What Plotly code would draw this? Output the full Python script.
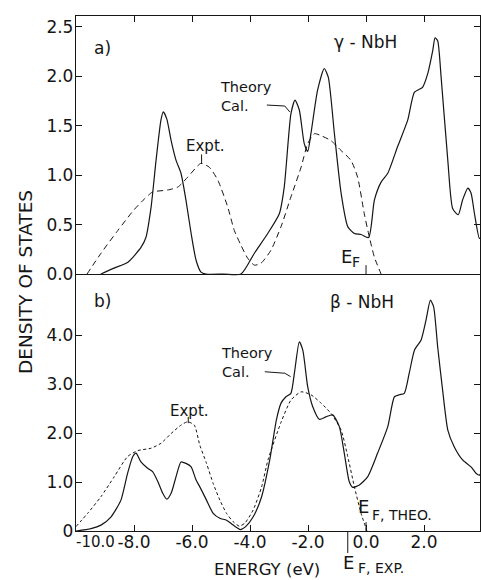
import plotly.graph_objects as go

# ---------------- data ----------------
# gamma-NbH, theory (solid)
gamma_theory_E = [-9.14, -8.69, -8.21, -7.76, -7.59, -7.41, -7.24, -7.07, -6.99, -6.87,
                  -6.72, -6.55, -6.38, -6.21, -6.03, -5.86, -5.69, -5.52, -4.90, -4.31,
                  -3.85, -3.39, -2.99, -2.82, -2.59, -2.45, -2.30, -2.13, -2.01, -1.90,
                  -1.67, -1.44, -1.30, -1.09, -0.86, -0.63, -0.40, -0.17, 0.09, 0.29,
                  0.52, 0.75, 1.09, 1.44, 1.67, 1.95, 2.13, 2.30, 2.38, 2.47,
                  2.59, 2.82, 2.99, 3.18, 3.33, 3.51, 3.62, 3.74, 3.91, 3.99]
gamma_theory_dos = [0, 0.06, 0.12, 0.27, 0.37, 0.68, 1.15, 1.56, 1.64, 1.57,
                    1.35, 1.15, 1.02, 0.75, 0.41, 0.14, 0.02, 0, 0, 0,
                    0.21, 0.41, 0.61, 0.88, 1.62, 1.76, 1.66, 1.32, 1.24, 1.42,
                    1.86, 2.08, 1.99, 1.42, 0.82, 0.48, 0.41, 0.40, 0.37, 0.75,
                    0.93, 1.02, 1.29, 1.56, 1.84, 1.89, 2.03, 2.26, 2.39, 2.36,
                    1.99, 1.15, 0.66, 0.60, 0.75, 0.87, 0.82, 0.61, 0.36, 0.39]
# gamma-NbH, experiment (dashed)
gamma_expt_E = [-9.62, -9.14, -8.56, -8.00, -7.64, -7.36, -6.84, -6.49, -6.15, -5.69,
                -5.40, -5.11, -4.77, -4.54, -4.31, -4.08, -3.85, -3.62, -3.28, -2.93,
                -2.59, -2.24, -2.01, -1.78, -1.55, -1.21, -0.86, -0.52, -0.29, -0.06,
                0.11, 0.29, 0.52]
gamma_expt_dos = [0, 0.21, 0.44, 0.65, 0.76, 0.83, 0.85, 0.88, 0.98, 1.12,
                  1.08, 0.95, 0.68, 0.44, 0.29, 0.16, 0.09, 0.11, 0.24, 0.48,
                  0.78, 1.08, 1.32, 1.42, 1.40, 1.35, 1.25, 1.15, 0.98, 0.61,
                  0.38, 0.17, 0]
# beta-NbH, theory (solid)
beta_theory_E = [-10.0, -9.48, -9.14, -8.79, -8.45, -8.22, -8.04, -7.93, -7.76, -7.53,
                 -7.36, -7.18, -7.01, -6.87, -6.72, -6.55, -6.38, -6.21, -6.03, -5.86,
                 -5.73, -5.50, -5.27, -5.04, -4.81, -4.58, -4.33, -4.15, -3.89, -3.60,
                 -3.32, -3.09, -2.93, -2.76, -2.59, -2.47, -2.30, -2.18, -2.01, -1.84,
                 -1.61, -1.38, -1.15, -0.92, -0.75, -0.58, -0.46, -0.23, 0.06, 0.40,
                 0.75, 0.98, 1.15, 1.32, 1.49, 1.67, 1.90, 2.07, 2.22, 2.33,
                 2.47, 2.64, 2.82, 3.04, 3.33, 3.62, 3.79, 3.91, 3.99]
beta_theory_dos = [0, 0.05, 0.12, 0.29, 0.63, 1.18, 1.52, 1.59, 1.41, 1.28,
                   1.21, 1.01, 0.77, 0.65, 0.77, 1.11, 1.41, 1.38, 1.31, 1.04,
                   0.90, 0.63, 0.36, 0.26, 0.22, 0.12, 0.03, 0.09, 0.29, 0.70,
                   1.45, 2.27, 2.61, 2.74, 2.81, 3.22, 3.86, 3.69, 2.94, 2.54,
                   2.28, 2.33, 2.37, 2.13, 1.59, 1.01, 0.89, 0.94, 1.11, 1.59,
                   2.13, 2.74, 2.78, 2.81, 3.22, 3.69, 3.90, 4.31, 4.71, 4.58,
                   3.76, 2.88, 2.06, 1.72, 1.45, 1.31, 1.18, 1.14, 1.21]
# beta-NbH, experiment (dashed)
beta_expt_E = [-10.0, -9.60, -9.14, -8.68, -8.22, -7.87, -7.41, -7.07, -6.72, -6.38,
               -6.15, -5.92, -5.73, -5.50, -5.27, -5.04, -4.81, -4.58, -4.37, -4.18,
               -3.89, -3.60, -3.38, -2.93, -2.59, -2.24, -1.90, -1.55, -1.21, -0.86,
               -0.63, -0.40, -0.17, 0.03]
beta_expt_dos = [0.09, 0.36, 0.70, 1.11, 1.52, 1.64, 1.69, 1.79, 1.99, 2.16,
                 2.23, 2.16, 1.75, 1.38, 0.97, 0.63, 0.36, 0.19, 0.10, 0.16,
                 0.43, 0.90, 1.45, 2.22, 2.67, 2.84, 2.78, 2.61, 2.40, 2.06,
                 1.52, 0.90, 0.36, 0]

x_tickvals = [-10, -8, -6, -4, -2, 0, 2]
# the first label sits to the right of its tick in the reference; it is written separately
x_ticktext = ["", "-8.0", "-6.0", "-4.0", "-2.0", "0.0", "2.0"]
x_first_label = "-10.0"
top_tickvals = [0, 0.5, 1.0, 1.5, 2.0, 2.5]
top_ticktext = ["0.0", "0.5", "1.0", "1.5", "2.0", "2.5"]
bot_tickvals = [0, 1, 2, 3, 4, 5]
bot_ticktext = ["0", "1.0", "2.0", "3.0", "4.0", ""]

E_F_theo = 0.0
E_F_exp = -0.63

# ---------------- figure ----------------
FONT = "DejaVu Sans"
INK = "#151515"
X_RANGE = [-10, 3.93]

fig = go.Figure()
solid = dict(color=INK, width=1.2, shape="spline", smoothing=0.6)
fig.add_trace(go.Scatter(x=gamma_theory_E, y=gamma_theory_dos, mode="lines",
                         line=solid, xaxis="x2", yaxis="y2", showlegend=False))
fig.add_trace(go.Scatter(x=gamma_expt_E, y=gamma_expt_dos, mode="lines",
                         line=dict(color=INK, width=1.0, dash="6px,4px", shape="spline", smoothing=0.6),
                         xaxis="x2", yaxis="y2", showlegend=False))
fig.add_trace(go.Scatter(x=beta_theory_E, y=beta_theory_dos, mode="lines",
                         line=solid, xaxis="x", yaxis="y", showlegend=False))
fig.add_trace(go.Scatter(x=beta_expt_E, y=beta_expt_dos, mode="lines",
                         line=dict(color=INK, width=1.0, dash="3px,2.5px", shape="spline", smoothing=0.6),
                         xaxis="x", yaxis="y", showlegend=False))

split = 245 / 515.0
axis_common = dict(showline=True, linecolor=INK, linewidth=1.3, ticks="inside",
                   ticklen=6, tickwidth=1.2, tickcolor=INK, showgrid=False,
                   tickfont=dict(family=FONT, size=17, color=INK))

fig.update_layout(
    width=481, height=580,
    margin=dict(l=76, r=1, t=16, b=49),
    paper_bgcolor="white", plot_bgcolor="white",
    xaxis=dict(domain=[0, 1], range=X_RANGE, anchor="y", tickvals=x_tickvals,
               ticktext=x_ticktext, zeroline=False, ticklabelstandoff=-5, **axis_common),
    yaxis=dict(domain=[0, split], range=[0, 5.0], anchor="x", tickvals=bot_tickvals,
               ticktext=bot_ticktext, mirror="ticks", zeroline=False,
               ticklabelstandoff=-2, **axis_common),
    xaxis2=dict(domain=[0, 1], range=X_RANGE, anchor="y2", side="top", tickvals=x_tickvals,
                showticklabels=False, zeroline=False, **axis_common),
    yaxis2=dict(domain=[split, 1], range=[-0.121, 2.611], anchor="x2", tickvals=top_tickvals,
                ticktext=top_ticktext, mirror="ticks", ticklabelstandoff=-2,
                zeroline=True, zerolinecolor=INK, zerolinewidth=1.2, **axis_common),
)

def paper_x(E):
    return (E - X_RANGE[0]) / (X_RANGE[1] - X_RANGE[0])

def txt(text, x, y, xref, yref, size, xanchor="center", angle=0, align="center", xshift=0):
    fig.add_annotation(text=text, x=x, y=y, xref=xref, yref=yref, showarrow=False,
                       xanchor=xanchor, yanchor="middle", textangle=angle, align=align,
                       xshift=xshift, font=dict(family=FONT, size=size, color=INK))

def seg(xs, ys, xref, yref):
    path = "M " + " L ".join(f"{a},{b}" for a, b in zip(xs, ys))
    fig.add_shape(type="path", path=path, xref=xref, yref=yref,
                  line=dict(color=INK, width=1.0))

# first x tick label, anchored at its tick value but to the right as in the reference
txt(x_first_label, x_tickvals[0], -0.0214, "x", "paper", 15, xanchor="left", xshift=-2)

# top panel texts
txt("a)", -9.10, 2.29, "x2", "y2", 17)
txt("γ - NbH", -0.01, 2.35, "x2", "y2", 17)
txt("Theory<br>Cal.", -5.11, 1.80, "x2", "y2", 14.5, xanchor="left", align="left")
seg([-3.42, -2.80, -2.63], [1.71, 1.70, 1.64], "x2", "y2")
txt("Expt.", -5.52, 1.30, "x2", "y2", 15)
seg([-5.67, -5.67], [1.21, 1.12], "x2", "y2")
txt("E", -0.675, 0.175, "x2", "y2", 18)
txt("F", -0.34, 0.12, "x2", "y2", 14)
seg([E_F_theo, E_F_theo], [0.09, 0.0], "x2", "y2")

# bottom panel texts
txt("b)", -9.10, 4.69, "x", "y", 17)
txt("β - NbH", -0.148, 4.68, "x", "y", 17)
txt("Theory<br>Cal.", -5.07, 3.43, "x", "y", 14.5, xanchor="left", align="left")
seg([-3.49, -2.80, -2.60], [3.25, 3.22, 3.15], "x", "y")
txt("Expt.", -6.07, 2.45, "x", "y", 15)
seg([-6.13, -6.13], [2.33, 2.20], "x", "y")
txt("E", -0.079, 0.50, "x", "y", 18)
txt("F, THEO.", 0.128, 0.327, "x", "y", 14, xanchor="left")
seg([E_F_theo, E_F_theo], [0.18, 0.0], "x", "y")

# below the bottom axis (paper coordinates)
seg([paper_x(E_F_exp), paper_x(E_F_exp)], [-0.002, -0.0427], "paper", "paper")
txt("E", paper_x(E_F_exp) + 0.003, -0.062, "paper", "paper", 18)
txt("F, EXP.", paper_x(E_F_exp) + 0.020, -0.072, "paper", "paper", 14, xanchor="left")
txt("ENERGY (eV)", 0.473, -0.0755, "paper", "paper", 16.5)
txt("DENSITY OF STATES", -0.1238, 0.4835, "paper", "paper", 18.5, angle=-90)

fig.write_html("out.html", config={"displayModeBar": False},
               post_script="document.body.style.margin='0';document.body.style.overflow='hidden';")
